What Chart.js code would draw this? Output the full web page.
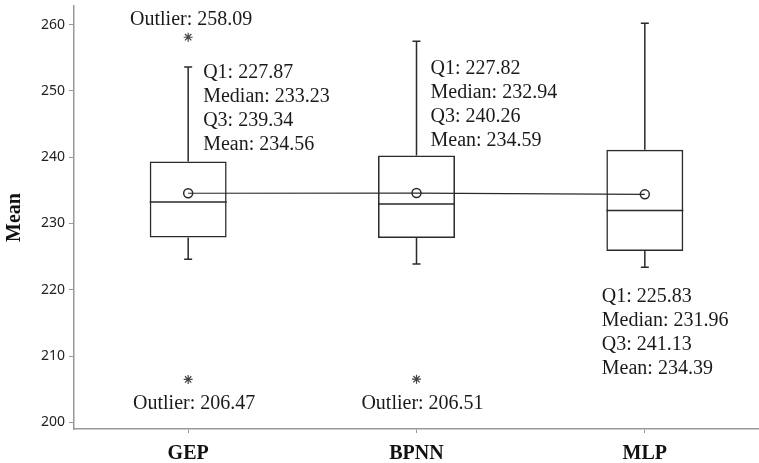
<!DOCTYPE html>
<html>
<head>
<meta charset="utf-8">
<script src="https://cdn.jsdelivr.net/npm/chart.js@4.4.1/dist/chart.umd.min.js"></script>
<style>
  body { margin: 0; background: #fff; overflow: hidden; }
  canvas { display: block; }
</style>
</head>
<body>
<canvas id="boxChart" width="759" height="463"></canvas>
<script>
const models = ['GEP', 'BPNN', 'MLP'];
const q1Values = [227.87, 227.82, 225.83];
const medianValues = [233.23, 232.94, 231.96];
const q3Values = [239.34, 240.26, 241.13];
const meanValues = [234.56, 234.59, 234.39];
const whiskerLow = [224.6, 223.9, 223.4];
const whiskerHigh = [253.6, 257.5, 260.2];
const outlierModels = ['GEP', 'GEP', 'BPNN'];
const outlierValues = [258.09, 206.47, 206.51];
const yTicks = [200, 210, 220, 230, 240, 250, 260];

const lineColor = '#2a2a2a';
const axisColor = '#999';
const serif = '"Liberation Serif", "Times New Roman", serif';

// where the text blocks sit, relative to each box / outlier
const statPos = [{ dx: 15, y: 252.0 }, { dx: 14, y: 252.6 }, { dx: -43, y: 218.2 }];
const outlierLabelPos = [{ dx: 3, dy: -12 }, { dx: 6, dy: 30 }, { dx: 6, dy: 30 }];

const boxPlugin = {
  id: 'boxParts',
  afterDatasetsDraw(chart) {
    const ctx = chart.ctx;
    const xs = chart.scales.x, ys = chart.scales.y;
    const boxes = chart.getDatasetMeta(0).data;
    ctx.save();
    ctx.strokeStyle = lineColor;
    ctx.lineWidth = 1.5;
    models.forEach((m, i) => {
      const x = xs.getPixelForValue(i);
      const half = boxes[i].width / 2;
      // median
      const ym = ys.getPixelForValue(medianValues[i]);
      ctx.beginPath();
      ctx.moveTo(x - half, ym); ctx.lineTo(x + half, ym);
      // whiskers and caps
      const yh = ys.getPixelForValue(whiskerHigh[i]);
      const yl = ys.getPixelForValue(whiskerLow[i]);
      ctx.moveTo(x, ys.getPixelForValue(q3Values[i])); ctx.lineTo(x, yh);
      ctx.moveTo(x, ys.getPixelForValue(q1Values[i])); ctx.lineTo(x, yl);
      ctx.moveTo(x - 4, yh); ctx.lineTo(x + 4, yh);
      ctx.moveTo(x - 4, yl); ctx.lineTo(x + 4, yl);
      ctx.stroke();
    });

    // annotations
    ctx.fillStyle = '#1a1a1a';
    ctx.font = '20px ' + serif;
    ctx.textBaseline = 'alphabetic';
    ctx.textAlign = 'left';
    models.forEach((m, i) => {
      const x = xs.getPixelForValue(i) + statPos[i].dx;
      const y0 = ys.getPixelForValue(statPos[i].y);
      const lines = [
        'Q1: ' + q1Values[i].toFixed(2),
        'Median: ' + medianValues[i].toFixed(2),
        'Q3: ' + q3Values[i].toFixed(2),
        'Mean: ' + meanValues[i].toFixed(2)
      ];
      lines.forEach((t, k) => ctx.fillText(t, x, y0 + k * 24));
    });
    ctx.textAlign = 'center';
    outlierValues.forEach((v, i) => {
      const x = xs.getPixelForValue(models.indexOf(outlierModels[i])) + outlierLabelPos[i].dx;
      const y = ys.getPixelForValue(v) + outlierLabelPos[i].dy;
      ctx.fillText('Outlier: ' + v.toFixed(2), x, y);
    });
    ctx.restore();
  }
};

new Chart(document.getElementById('boxChart'), {
  data: {
    labels: models,
    datasets: [
      {
        type: 'bar',
        data: q1Values.map((q, i) => [q, q3Values[i]]),
        backgroundColor: 'rgba(255,255,255,0)',
        borderColor: lineColor,
        borderWidth: 1.5,
        borderSkipped: false,
        barPercentage: 0.337,
        categoryPercentage: 1,
        order: 3
      },
      {
        type: 'line',
        data: meanValues,
        borderColor: lineColor,
        borderWidth: 1.2,
        pointStyle: 'circle',
        pointRadius: 4.5,
        pointBorderWidth: 1.5,
        pointBorderColor: lineColor,
        pointBackgroundColor: 'rgba(255,255,255,0)',
        fill: false,
        tension: 0,
        order: 1
      },
      {
        type: 'scatter',
        data: outlierValues.map((v, i) => ({ x: outlierModels[i], y: v })),
        pointStyle: 'star',
        pointRadius: 4.5,
        borderColor: '#444',
        borderWidth: 1.2,
        order: 0
      }
    ]
  },
  options: {
    responsive: false,
    animation: false,
    layout: { autoPadding: false, padding: { top: 6, right: -3, left: 0, bottom: 0 } },
    plugins: { legend: { display: false }, tooltip: { enabled: false } },
    scales: {
      x: {
        type: 'category',
        offset: true,
        grid: { display: true, offset: false, drawOnChartArea: false, drawTicks: true, tickLength: 4, color: axisColor },
        border: { color: axisColor, width: 1.5 },
        ticks: { color: '#111', padding: 9, font: { family: serif, size: 20, weight: 'bold' } },
        afterFit(scale) {
          scale.height = 34;
          scale.paddingLeft = 0; scale.paddingRight = 0;
        }
      },
      y: {
        type: 'linear',
        min: 199,
        max: 262.8,
        afterBuildTicks(scale) { scale.ticks = yTicks.map(v => ({ value: v })); },
        grid: { display: true, drawOnChartArea: false, drawTicks: true, tickLength: 5, color: axisColor },
        border: { color: axisColor, width: 1.5 },
        ticks: { color: '#222', padding: 4, font: { family: '"Noto Sans", sans-serif', size: 14 } },
        title: { display: true, text: 'Mean', color: '#111', padding: 3, font: { family: serif, size: 20, weight: 'bold' } },
        afterFit(scale) {
          scale.width = 74;
          scale.paddingTop = 0; scale.paddingBottom = 0;
        }
      }
    }
  },
  plugins: [boxPlugin]
});
</script>
</body>
</html>
